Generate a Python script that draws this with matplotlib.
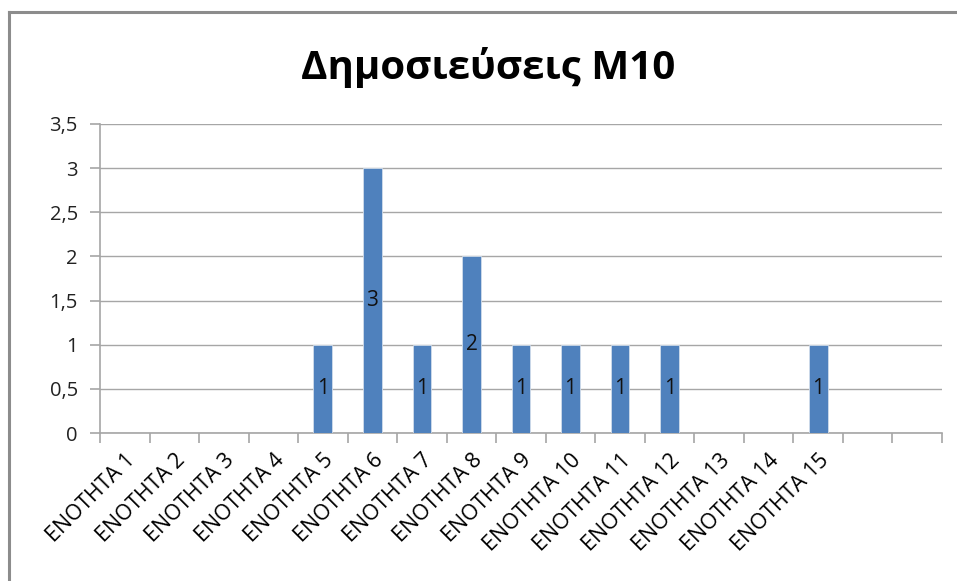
import matplotlib
matplotlib.use("Agg")
import matplotlib.pyplot as plt
from matplotlib.lines import Line2D
from matplotlib.ticker import FuncFormatter
from matplotlib.transforms import ScaledTranslation

plt.rcParams['font.family'] = ['Open Sans', 'DejaVu Sans']

title = "Δημοσιεύσεις Μ10"
categories = [f"ΕΝΟΤΗΤΑ {i}" for i in range(1, 16)] + ["", ""]
values = [0, 0, 0, 0, 1, 3, 1, 2, 1, 1, 1, 1, 0, 0, 1, 0, 0]
y_ticks = [0, 0.5, 1, 1.5, 2, 2.5, 3, 3.5]

bar_color = "#4F81BD"
grid_color = "#A6A6A6"

fig = plt.figure(figsize=(9.57, 5.81), dpi=100)
ax = fig.add_axes([0.1045, 0.2547, 0.8798, 0.5319])

x = list(range(len(categories)))
ax.bar(x, values, width=0.38, color=bar_color, zorder=3,
       edgecolor="#D0DCEB", linewidth=0.6)

for xi, v in zip(x, values):
    if v > 0:
        ax.text(xi, v / 2, f"{v:g}", ha="center", va="center",
                fontsize=15, color="#111111", zorder=4)

ax.set_xlim(-0.5, len(categories) - 0.5)
ax.set_ylim(0, 3.5)
ax.set_yticks(y_ticks)
ax.yaxis.set_major_formatter(FuncFormatter(lambda v, p: f"{v:g}".replace(".", ",")))
ax.yaxis.grid(True, color=grid_color, linewidth=1.0, zorder=0)
ax.set_axisbelow(True)

ax.set_xticks(x)
ax.set_xticklabels(categories, rotation=45, ha="right", rotation_mode="anchor",
                   fontsize=15.5)
shift = ScaledTranslation(4 / 72, -4 / 72, fig.dpi_scale_trans)
for lbl in ax.get_xticklabels():
    lbl.set_transform(lbl.get_transform() + shift)
# category boundary ticks
ax.set_xticks([i - 0.5 for i in range(len(categories) + 1)], minor=True)
ax.tick_params(axis="x", which="major", length=0, pad=12)
ax.tick_params(axis="x", which="minor", length=7, color=grid_color, width=1.2)
ax.tick_params(axis="y", length=7, color=grid_color, width=1.2, labelsize=14.5,
               pad=9, labelcolor="#222222")

for side in ("top", "right"):
    ax.spines[side].set_visible(False)
for side in ("left", "bottom"):
    ax.spines[side].set_color(grid_color)
    ax.spines[side].set_linewidth(1.2)

fig.text(0.51, 0.883, title, ha="center", va="center", fontsize=29,
         fontweight="bold")

# outer chart frame
fig.add_artist(Line2D([0.0099, 0.0099], [0.0, 0.9793], transform=fig.transFigure,
                      color="#8C8C8C", linewidth=2.2))
fig.add_artist(Line2D([0.0099, 1.0], [0.9793, 0.9793], transform=fig.transFigure,
                      color="#8C8C8C", linewidth=2.2))

fig.savefig("out.png", dpi=100, facecolor="white")
